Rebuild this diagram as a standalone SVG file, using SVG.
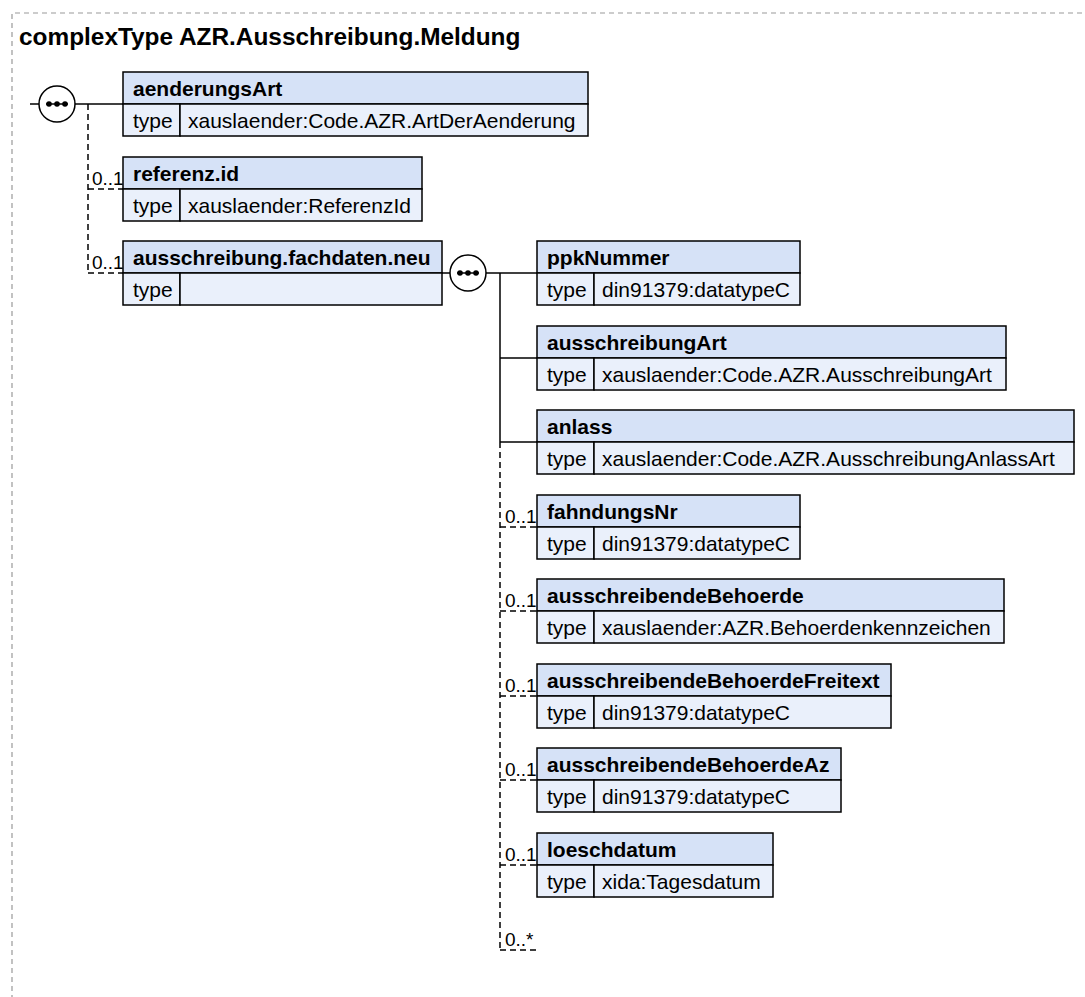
<svg xmlns="http://www.w3.org/2000/svg" width="1085" height="997" viewBox="0 0 1085 997">
<style>
.bg{fill:#ffffff}
.frame{fill:none;stroke:#999;stroke-width:1.2;stroke-dasharray:5,4}
.title{font-family:"Liberation Sans",Arial,sans-serif;font-weight:bold;font-size:24.4px;fill:#000}
.hd{fill:#d6e2f7;stroke:#000;stroke-width:1.5}
.row{fill:#eaf0fb;stroke:#000;stroke-width:1.5}
.name{font-family:"Liberation Sans",Arial,sans-serif;font-weight:bold;font-size:21px;fill:#000}
.txt{font-family:"Liberation Sans",Arial,sans-serif;font-size:21px;fill:#000}
.card{font-family:"Liberation Sans",Arial,sans-serif;font-size:19px;fill:#000}
.ln{fill:none;stroke:#000;stroke-width:1.5}
.dl{fill:none;stroke:#000;stroke-width:1.5;stroke-dasharray:6,4}
.seq{fill:#fff;stroke:#000;stroke-width:1.5}
.dot{fill:#000}
</style>
<defs>
<g id="seqIcon">
<circle class="seq" cx="0" cy="0" r="18"/>
<line x1="-11" y1="0" x2="11" y2="0" stroke="#000" stroke-width="1.5"/>
<circle class="dot" cx="-8" cy="0" r="2.8"/>
<circle class="dot" cx="0" cy="0" r="2.8"/>
<circle class="dot" cx="8" cy="0" r="2.8"/>
</g>
</defs>
<rect class="bg" x="0" y="0" width="1085" height="997"/>
<path class="frame" d="M12,1000 V13 H1090"/>
<text class="title" x="19" y="45">complexType AZR.Ausschreibung.Meldung</text>

<g id="connectors">
<line class="ln" x1="30" y1="104" x2="39" y2="104"/>
<line class="ln" x1="75" y1="104" x2="123" y2="104"/>
<path class="dl" d="M88,104 V273"/>
<line class="dl" x1="88" y1="189" x2="123" y2="189"/>
<line class="dl" x1="88" y1="273" x2="123" y2="273"/>
<text class="card" x="92" y="185">0..1</text>
<text class="card" x="92" y="269">0..1</text>
<line class="ln" x1="442" y1="273" x2="450" y2="273"/>
<line class="ln" x1="486" y1="273" x2="537" y2="273"/>
<line class="ln" x1="500" y1="273" x2="500" y2="442"/>
<line class="ln" x1="500" y1="358" x2="537" y2="358"/>
<line class="ln" x1="500" y1="442" x2="537" y2="442"/>
<path class="dl" d="M500,442 V950"/>
<line class="dl" x1="500" y1="527" x2="537" y2="527"/>
<line class="dl" x1="500" y1="611" x2="537" y2="611"/>
<line class="dl" x1="500" y1="696" x2="537" y2="696"/>
<line class="dl" x1="500" y1="780" x2="537" y2="780"/>
<line class="dl" x1="500" y1="865" x2="537" y2="865"/>
<line class="dl" x1="500" y1="950" x2="537" y2="950"/>
<text class="card" x="505" y="523">0..1</text>
<text class="card" x="505" y="607">0..1</text>
<text class="card" x="505" y="692">0..1</text>
<text class="card" x="505" y="776">0..1</text>
<text class="card" x="505" y="861">0..1</text>
<text class="card" x="505" y="946">0..*</text>
</g>

<g id="seq1"><use href="#seqIcon" x="57" y="104"/></g>
<g id="seq2"><use href="#seqIcon" x="468" y="273"/></g>

<g id="aenderungsArt">
<rect class="hd" x="123" y="72" width="465" height="32"/>
<rect class="row" x="123" y="104" width="57" height="32"/>
<rect class="row" x="180" y="104" width="408" height="32"/>
<text class="name" x="133" y="96">aenderungsArt</text>
<text class="txt" x="133" y="128">type</text>
<text class="txt" x="188" y="128">xauslaender:Code.AZR.ArtDerAenderung</text>
</g>

<g id="referenz.id">
<rect class="hd" x="123" y="157" width="299" height="32"/>
<rect class="row" x="123" y="189" width="57" height="32"/>
<rect class="row" x="180" y="189" width="242" height="32"/>
<text class="name" x="133" y="181">referenz.id</text>
<text class="txt" x="133" y="213">type</text>
<text class="txt" x="188" y="213">xauslaender:ReferenzId</text>
</g>

<g id="ausschreibung.fachdaten.neu">
<rect class="hd" x="123" y="241" width="319" height="32"/>
<rect class="row" x="123" y="273" width="57" height="32"/>
<rect class="row" x="180" y="273" width="262" height="32"/>
<text class="name" x="133" y="265">ausschreibung.fachdaten.neu</text>
<text class="txt" x="133" y="297">type</text>
</g>

<g id="ppkNummer">
<rect class="hd" x="537" y="241" width="263" height="32"/>
<rect class="row" x="537" y="273" width="57" height="32"/>
<rect class="row" x="594" y="273" width="206" height="32"/>
<text class="name" x="547" y="265">ppkNummer</text>
<text class="txt" x="547" y="297">type</text>
<text class="txt" x="602" y="297">din91379:datatypeC</text>
</g>

<g id="ausschreibungArt">
<rect class="hd" x="537" y="326" width="469" height="32"/>
<rect class="row" x="537" y="358" width="57" height="32"/>
<rect class="row" x="594" y="358" width="412" height="32"/>
<text class="name" x="547" y="350">ausschreibungArt</text>
<text class="txt" x="547" y="382">type</text>
<text class="txt" x="602" y="382">xauslaender:Code.AZR.AusschreibungArt</text>
</g>

<g id="anlass">
<rect class="hd" x="537" y="410" width="537" height="32"/>
<rect class="row" x="537" y="442" width="57" height="32"/>
<rect class="row" x="594" y="442" width="480" height="32"/>
<text class="name" x="547" y="434">anlass</text>
<text class="txt" x="547" y="466">type</text>
<text class="txt" x="602" y="466">xauslaender:Code.AZR.AusschreibungAnlassArt</text>
</g>

<g id="fahndungsNr">
<rect class="hd" x="537" y="495" width="263" height="32"/>
<rect class="row" x="537" y="527" width="57" height="32"/>
<rect class="row" x="594" y="527" width="206" height="32"/>
<text class="name" x="547" y="519">fahndungsNr</text>
<text class="txt" x="547" y="551">type</text>
<text class="txt" x="602" y="551">din91379:datatypeC</text>
</g>

<g id="ausschreibendeBehoerde">
<rect class="hd" x="537" y="579" width="467" height="32"/>
<rect class="row" x="537" y="611" width="57" height="32"/>
<rect class="row" x="594" y="611" width="410" height="32"/>
<text class="name" x="547" y="603">ausschreibendeBehoerde</text>
<text class="txt" x="547" y="635">type</text>
<text class="txt" x="602" y="635">xauslaender:AZR.Behoerdenkennzeichen</text>
</g>

<g id="ausschreibendeBehoerdeFreitext">
<rect class="hd" x="537" y="664" width="354" height="32"/>
<rect class="row" x="537" y="696" width="57" height="32"/>
<rect class="row" x="594" y="696" width="297" height="32"/>
<text class="name" x="547" y="688">ausschreibendeBehoerdeFreitext</text>
<text class="txt" x="547" y="720">type</text>
<text class="txt" x="602" y="720">din91379:datatypeC</text>
</g>

<g id="ausschreibendeBehoerdeAz">
<rect class="hd" x="537" y="748" width="304" height="32"/>
<rect class="row" x="537" y="780" width="57" height="32"/>
<rect class="row" x="594" y="780" width="247" height="32"/>
<text class="name" x="547" y="772">ausschreibendeBehoerdeAz</text>
<text class="txt" x="547" y="804">type</text>
<text class="txt" x="602" y="804">din91379:datatypeC</text>
</g>

<g id="loeschdatum">
<rect class="hd" x="537" y="833" width="236" height="32"/>
<rect class="row" x="537" y="865" width="57" height="32"/>
<rect class="row" x="594" y="865" width="179" height="32"/>
<text class="name" x="547" y="857">loeschdatum</text>
<text class="txt" x="547" y="889">type</text>
<text class="txt" x="602" y="889">xida:Tagesdatum</text>
</g>
</svg>
